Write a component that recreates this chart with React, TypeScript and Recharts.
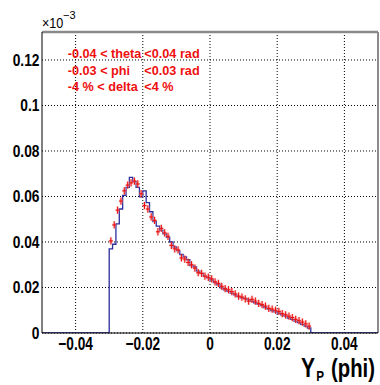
import React from 'react';
import {
  ComposedChart,
  Line,
  Scatter,
  ErrorBar,
  XAxis,
  YAxis,
  CartesianGrid,
  ReferenceLine,
} from 'recharts';

// ---- data ----
const binStart = -0.03;
const binWidth = 0.001;

// Simulation histogram (blue), 60 bins from -0.03 to 0.03
const histValues = [
  0.0370, 0.0390, 0.0480, 0.0545, 0.0605, 0.0640, 0.0684, 0.0665, 0.0640, 0.0598,
  0.0625, 0.0573, 0.0533, 0.0490, 0.0470, 0.0452, 0.0436, 0.0420, 0.0400, 0.0378,
  0.0362, 0.0345, 0.0335, 0.0322, 0.0296, 0.0290, 0.0272, 0.0262, 0.0250, 0.0242,
  0.0233, 0.0222, 0.0212, 0.0198, 0.0190, 0.0183, 0.0175, 0.0168, 0.0160, 0.0155,
  0.0152, 0.0146, 0.0140, 0.0133, 0.0126, 0.0120, 0.0112, 0.0105, 0.0098, 0.0093,
  0.0088, 0.0080, 0.0074, 0.0066, 0.0060, 0.0052, 0.0046, 0.0038, 0.0030, 0.0022,
];

// Data points (red) with error bars
const dataValues = [
  0.0405, 0.0475, 0.0540, 0.0580, 0.0625, 0.0650, 0.0660, 0.0668, 0.0655, 0.0612,
  0.0560, 0.0545, 0.0510, 0.0495, 0.0445, 0.0460, 0.0440, 0.0425, 0.0385, 0.0370,
  0.0365, 0.0330, 0.0325, 0.0310, 0.0300, 0.0285, 0.0265, 0.0262, 0.0250, 0.0245,
  0.0238, 0.0225, 0.0218, 0.0205, 0.0195, 0.0190, 0.0182, 0.0172, 0.0162, 0.0158,
  0.0150, 0.0140, 0.0148, 0.0140, 0.0130, 0.0125, 0.0118, 0.0108, 0.0105, 0.0100,
  0.0095, 0.0085, 0.0080, 0.0074, 0.0068, 0.0060, 0.0054, 0.0048, 0.0040, 0.0030,
];
const dataYError = 0.0016;
const dataXError = 0.0006;

const xDomain = [-0.05, 0.05];
const yDomain = [0, 0.1323];
const xMajorTicks = [-0.04, -0.02, 0, 0.02, 0.04];
const xTickLabels = ['\u22120.04', '\u22120.02', '0', '0.02', '0.04'];
const xMinorTicks = [
  -0.045, -0.04, -0.035, -0.03, -0.025, -0.02, -0.015, -0.01, -0.005, 0,
  0.005, 0.01, 0.015, 0.02, 0.025, 0.03, 0.035, 0.04, 0.045,
];
const yMajorTicks = [0, 0.02, 0.04, 0.06, 0.08, 0.1, 0.12];
const yTickLabels = ['0', '0.02', '0.04', '0.06', '0.08', '0.1', '0.12'];
const yMinorTicks = [
  0.005, 0.01, 0.015, 0.02, 0.025, 0.03, 0.035, 0.04, 0.045, 0.05, 0.055, 0.06,
  0.065, 0.07, 0.075, 0.08, 0.085, 0.09, 0.095, 0.1, 0.105, 0.11, 0.115, 0.12,
  0.125, 0.13,
];

const cutLines = [
  ['-0.04 < theta', '<0.04 rad'],
  ['-0.03 < phi', '<0.03 rad'],
  ['-4 %  < delta', '<4 %'],
];

// ---- derived tables for the library ----
const histPoints = [
  { x: xDomain[0], y: 0 },
  ...histValues.map((v, i) => ({ x: +(binStart + i * binWidth).toFixed(4), y: v })),
  { x: +(binStart + histValues.length * binWidth).toFixed(4), y: 0 },
  { x: xDomain[1], y: 0 },
];
const dataPoints = dataValues.map((v, i) => ({
  x: +(binStart + (i + 0.5) * binWidth).toFixed(5),
  y: v,
  ex: dataXError,
  ey: dataYError,
}));

const FONT = '"Liberation Sans", Arial, Helvetica, sans-serif';
const RED = '#ee1010';
const BLUE = '#2b2b9e';

const XTick = (props: any) => {
  const { x, y, payload } = props;
  const idx = xMajorTicks.indexOf(payload.value);
  const label = idx >= 0 ? xTickLabels[idx] : String(payload.value);
  return (
    <g transform={`translate(${x},${y + 17}) scale(0.76,1)`}>
      <text x={0} y={0} textAnchor="middle" fontFamily={FONT} fontWeight="bold" fontSize={18} fill="#000">
        {label}
      </text>
    </g>
  );
};

const YTick = (props: any) => {
  const { x, y, payload } = props;
  const idx = yMajorTicks.indexOf(payload.value);
  const label = idx >= 0 ? yTickLabels[idx] : String(payload.value);
  return (
    <g transform={`translate(${x - 2.5},${y + 5.9}) scale(0.84,1)`}>
      <text x={0} y={0} textAnchor="end" fontFamily={FONT} fontWeight="bold" fontSize={16.4} fill="#000">
        {label}
      </text>
    </g>
  );
};

const noShape = () => <g />;

export default function App() {
  return (
    <div style={{ position: 'absolute', left: 0, top: 0, width: 380, height: 385, background: '#fff' }}>
      <ComposedChart
        width={380}
        height={385}
        margin={{ top: 32, right: 2, bottom: 0, left: 0 }}
      >
        <CartesianGrid
          stroke="#000"
          strokeDasharray="1 2"
          strokeWidth={1}
          horizontalValues={yMajorTicks}
          verticalValues={xMajorTicks}
        />
        <XAxis
          dataKey="x"
          type="number"
          domain={xDomain}
          ticks={xMajorTicks}
          allowDataOverflow
          height={52}
          tickSize={0}
          tickMargin={0}
          tickLine={false}
          axisLine={{ stroke: '#000', strokeWidth: 1 }}
          tick={<XTick />}
          interval={0}
        />
        <XAxis
          xAxisId="minor"
          type="number"
          domain={xDomain}
          ticks={xMinorTicks}
          allowDataOverflow
          mirror
          height={0}
          tickSize={5}
          tick={false}
          axisLine={false}
          tickLine={{ stroke: '#000', strokeWidth: 1 }}
          interval={0}
        />
        <XAxis
          xAxisId="major"
          type="number"
          domain={xDomain}
          ticks={xMajorTicks}
          allowDataOverflow
          mirror
          height={0}
          tickSize={9}
          tick={false}
          axisLine={false}
          tickLine={{ stroke: '#000', strokeWidth: 1 }}
          interval={0}
        />
        <YAxis
          type="number"
          domain={yDomain}
          ticks={yMajorTicks}
          allowDataOverflow
          width={42}
          tickSize={0}
          tickMargin={0}
          tickLine={false}
          axisLine={{ stroke: '#000', strokeWidth: 1 }}
          tick={<YTick />}
          interval={0}
        />
        <YAxis
          yAxisId="minor"
          type="number"
          domain={yDomain}
          ticks={yMinorTicks}
          allowDataOverflow
          mirror
          width={0}
          tickSize={5}
          tick={false}
          axisLine={false}
          tickLine={{ stroke: '#000', strokeWidth: 1 }}
          interval={0}
        />
        <YAxis
          yAxisId="major"
          type="number"
          domain={yDomain}
          ticks={yMajorTicks}
          allowDataOverflow
          mirror
          width={0}
          tickSize={11}
          tick={false}
          axisLine={false}
          tickLine={{ stroke: '#000', strokeWidth: 1 }}
          interval={0}
        />
        <ReferenceLine y={yDomain[1]} stroke="#8a8a8a" strokeWidth={2.5} ifOverflow="extendDomain" />
        <ReferenceLine x={xDomain[1]} stroke="#8a8a8a" strokeWidth={2} ifOverflow="extendDomain" />
        <Line
          data={histPoints}
          dataKey="y"
          type="stepAfter"
          stroke={BLUE}
          strokeWidth={1.3}
          dot={false}
          activeDot={false}
          isAnimationActive={false}
        />
        <Scatter data={dataPoints} dataKey="y" shape={noShape} isAnimationActive={false}>
          <ErrorBar dataKey="ey" direction="y" width={0} stroke="#f2a0a0" strokeWidth={3} strokeOpacity={0.35} isAnimationActive={false} />
          <ErrorBar dataKey="ex" direction="x" width={0} stroke="#f2a0a0" strokeWidth={3} strokeOpacity={0.35} isAnimationActive={false} />
          <ErrorBar dataKey="ey" direction="y" width={0} stroke={RED} strokeWidth={1.1} isAnimationActive={false} />
          <ErrorBar dataKey="ex" direction="x" width={0} stroke={RED} strokeWidth={1.1} isAnimationActive={false} />
        </Scatter>
      </ComposedChart>
      <svg
        width={380}
        height={385}
        style={{ position: 'absolute', left: 0, top: 0, pointerEvents: 'none' }}
      >
        <text x={42} y={28} fontFamily={FONT} fontSize={14} fill="#000" transform="translate(42,0) scale(0.9,1) translate(-42,0)">
          ×10
        </text>
        <text x={63} y={19} fontFamily={FONT} fontSize={11} fill="#000">
          −3
        </text>
        {cutLines.map((ln, i) => (
          <g key={i}>
            <text x={67.7} y={58.3 + i * 16.2} fontFamily={FONT} fontWeight="bold" fontSize={12.7} fill={RED}>
              {ln[0]}
            </text>
            <text x={144.3} y={58.3 + i * 16.2} fontFamily={FONT} fontWeight="bold" fontSize={12.7} fill={RED}>
              {ln[1]}
            </text>
          </g>
        ))}
        <g transform="translate(301,377) scale(0.78,1)">
          <text x={0} y={0} fontFamily={FONT} fontWeight="bold" fontSize={27} fill="#000">Y</text>
          <text x={19.5} y={4} fontFamily={FONT} fontWeight="bold" fontSize={15} fill="#000">P</text>
          <text x={38.5} y={0} fontFamily={FONT} fontWeight="bold" fontSize={26} fill="#000">(phi)</text>
        </g>
      </svg>
    </div>
  );
}
